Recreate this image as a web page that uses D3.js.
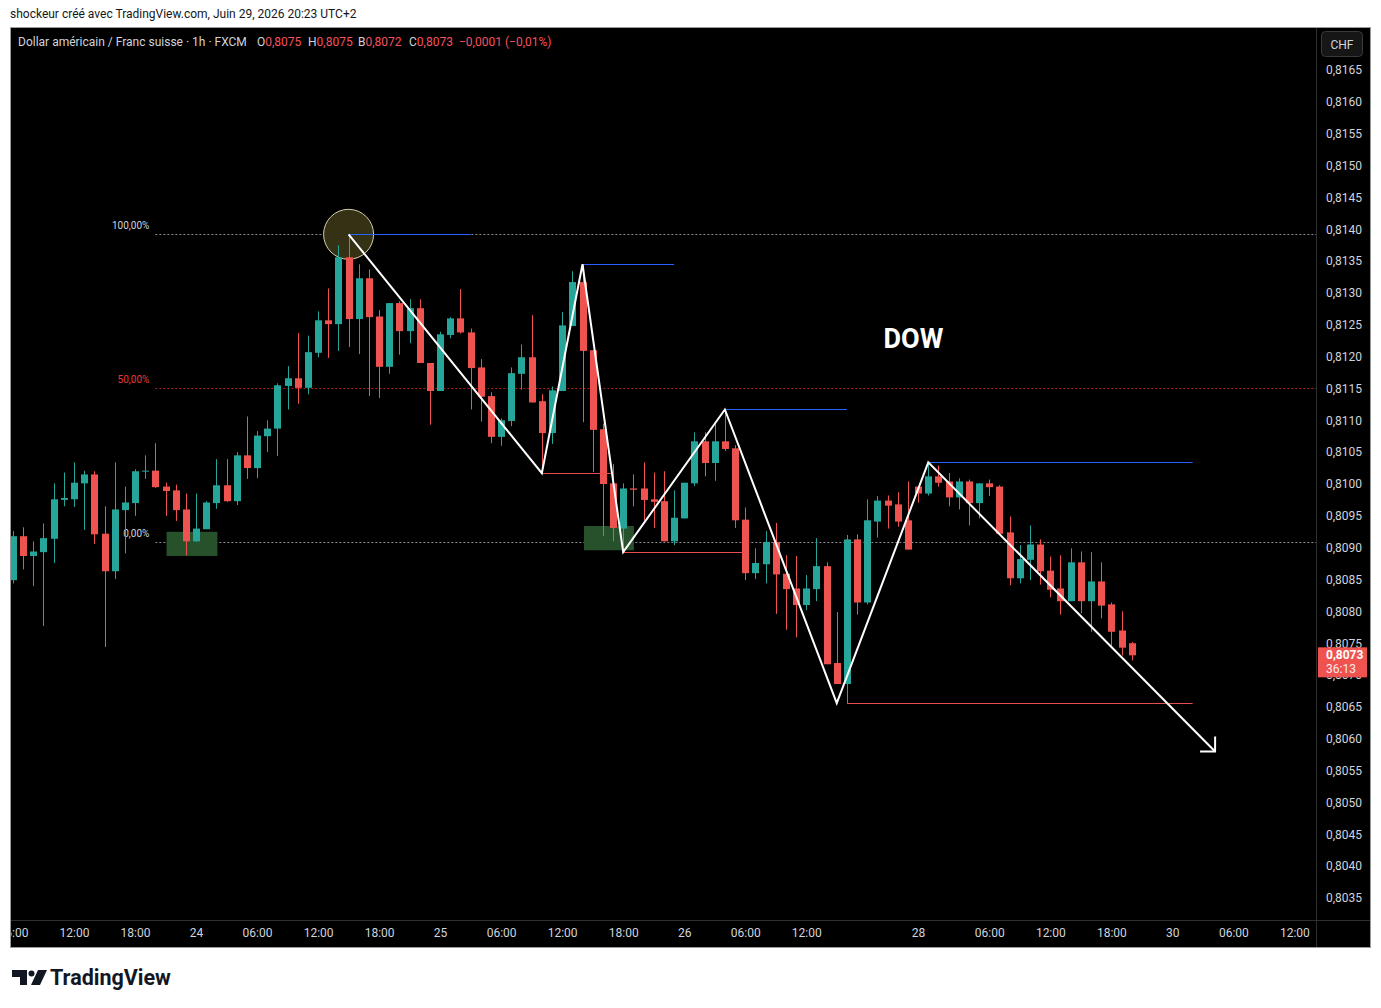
<!DOCTYPE html>
<html>
<head>
<meta charset="utf-8">
<script src="https://cdn.jsdelivr.net/npm/d3@7"></script>
<style>
  body { margin: 0; background: #ffffff; }
  svg { display: block; font-family: Roboto, "Liberation Sans", sans-serif; }
</style>
</head>
<body>
<svg></svg>
<script>
// USD/CHF 1h, FXCM - bar 0 = 23 juin 12:00 (weekend bars skipped)
const firstBar = -6;

const open = [
  0.80849, 0.80918, 0.80887, 0.80893, 0.80914, 0.80975, 0.80976, 0.81001, 0.81015, 0.80922,
  0.80863, 0.80959, 0.80970, 0.81020, 0.81021, 0.80996, 0.80990, 0.80960, 0.80910, 0.80929,
  0.80970, 0.80998, 0.80973, 0.81045, 0.81025, 0.81075, 0.81087, 0.81154, 0.81166, 0.81151,
  0.81206, 0.81257, 0.81251, 0.81356, 0.81259, 0.81323, 0.81263, 0.81184, 0.81284, 0.81240,
  0.81276, 0.81190, 0.81146, 0.81234, 0.81260, 0.81238, 0.81183, 0.81138, 0.81074, 0.81099,
  0.81173, 0.81199, 0.81130, 0.81080, 0.81146, 0.81248, 0.81317, 0.81210, 0.81086, 0.81001,
  0.80930, 0.80993, 0.80993, 0.80976, 0.80973, 0.80910, 0.80946, 0.81001, 0.81067, 0.81033,
  0.81067, 0.81056, 0.80944, 0.80860, 0.80874, 0.80909, 0.80859, 0.80836, 0.80810, 0.80835,
  0.80871, 0.80719, 0.80686, 0.80913, 0.80814, 0.80941, 0.80974, 0.80968, 0.80943, 0.80996,
  0.80985, 0.81012, 0.81004, 0.80979, 0.81004, 0.80970, 0.81001, 0.80996, 0.80924, 0.80852,
  0.80881, 0.80905, 0.80864, 0.80836, 0.80816, 0.80877, 0.80816, 0.80847, 0.80811, 0.80770,
  0.80750
];
const high = [
  0.80926, 0.80932, 0.80910, 0.80938, 0.81001, 0.81018, 0.81034, 0.81021, 0.81020, 0.80965,
  0.81034, 0.80996, 0.81023, 0.81045, 0.81064, 0.81002, 0.80999, 0.80985, 0.80985, 0.80973,
  0.81039, 0.81039, 0.81050, 0.81106, 0.81083, 0.81100, 0.81158, 0.81185, 0.81237, 0.81233,
  0.81271, 0.81307, 0.81375, 0.81392, 0.81345, 0.81337, 0.81273, 0.81284, 0.81287, 0.81290,
  0.81290, 0.81190, 0.81239, 0.81262, 0.81306, 0.81244, 0.81196, 0.81144, 0.81103, 0.81183,
  0.81219, 0.81265, 0.81141, 0.81153, 0.81270, 0.81334, 0.81345, 0.81210, 0.81095, 0.81031,
  0.81001, 0.81015, 0.81034, 0.81018, 0.81020, 0.80990, 0.81002, 0.81081, 0.81081, 0.81094,
  0.81117, 0.81061, 0.80963, 0.80899, 0.80926, 0.80939, 0.80888, 0.80887, 0.80857, 0.80915,
  0.80877, 0.80799, 0.80920, 0.80921, 0.80976, 0.80981, 0.80982, 0.80987, 0.81004, 0.80996,
  0.81033, 0.81029, 0.81017, 0.81009, 0.81007, 0.81001, 0.81007, 0.80998, 0.80949, 0.80904,
  0.80935, 0.80913, 0.80886, 0.80888, 0.80899, 0.80894, 0.80893, 0.80877, 0.80814, 0.80800,
  0.80752
];
const low = [
  0.80844, 0.80866, 0.80840, 0.80777, 0.80876, 0.80965, 0.80964, 0.80928, 0.80906, 0.80744,
  0.80851, 0.80891, 0.80950, 0.81008, 0.80994, 0.80950, 0.80942, 0.80888, 0.80909, 0.80929,
  0.80961, 0.80972, 0.80967, 0.81008, 0.81009, 0.81050, 0.81044, 0.81117, 0.81126, 0.81141,
  0.81199, 0.81198, 0.81209, 0.81215, 0.81204, 0.81138, 0.81135, 0.81173, 0.81203, 0.81221,
  0.81190, 0.81093, 0.81146, 0.81229, 0.81236, 0.81117, 0.81098, 0.81064, 0.81060, 0.81091,
  0.81148, 0.81128, 0.81017, 0.81063, 0.81146, 0.81248, 0.81097, 0.81019, 0.80918, 0.80910,
  0.80892, 0.80965, 0.80942, 0.80931, 0.80910, 0.80904, 0.80946, 0.80997, 0.81012, 0.81005,
  0.81052, 0.80931, 0.80849, 0.80851, 0.80844, 0.80796, 0.80771, 0.80759, 0.80802, 0.80816,
  0.80717, 0.80686, 0.80656, 0.80795, 0.80811, 0.80916, 0.80930, 0.80933, 0.80897, 0.80971,
  0.80982, 0.80996, 0.80965, 0.80960, 0.80935, 0.80946, 0.80981, 0.80922, 0.80841, 0.80844,
  0.80849, 0.80842, 0.80822, 0.80795, 0.80816, 0.80797, 0.80768, 0.80789, 0.80746, 0.80731,
  0.80723
];
const close = [
  0.80918, 0.80887, 0.80894, 0.80915, 0.80976, 0.80978, 0.81002, 0.81015, 0.80921, 0.80863,
  0.80960, 0.80971, 0.81020, 0.81021, 0.80995, 0.80989, 0.80959, 0.80910, 0.80930, 0.80971,
  0.80998, 0.80973, 0.81045, 0.81025, 0.81076, 0.81087, 0.81155, 0.81166, 0.81151, 0.81207,
  0.81257, 0.81251, 0.81356, 0.81259, 0.81323, 0.81262, 0.81184, 0.81284, 0.81240, 0.81276,
  0.81190, 0.81146, 0.81235, 0.81260, 0.81238, 0.81182, 0.81137, 0.81074, 0.81100, 0.81174,
  0.81199, 0.81128, 0.81080, 0.81147, 0.81249, 0.81317, 0.81209, 0.81085, 0.81000, 0.80931,
  0.80993, 0.80991, 0.80975, 0.80972, 0.80910, 0.80947, 0.81002, 0.81067, 0.81033, 0.81067,
  0.81055, 0.80943, 0.80860, 0.80876, 0.80909, 0.80858, 0.80835, 0.80810, 0.80836, 0.80871,
  0.80717, 0.80686, 0.80913, 0.80814, 0.80943, 0.80974, 0.80966, 0.80941, 0.80897, 0.80985,
  0.81012, 0.81002, 0.80979, 0.81004, 0.80970, 0.81001, 0.80995, 0.80922, 0.80852, 0.80882,
  0.80905, 0.80863, 0.80834, 0.80816, 0.80877, 0.80816, 0.80847, 0.80809, 0.80768, 0.80743,
  0.80731
];

const priceTicks = [
  0.8035, 0.8040, 0.8045, 0.8050, 0.8055, 0.8060, 0.8065, 0.8070, 0.8075, 0.8080,
  0.8085, 0.8090, 0.8095, 0.8100, 0.8105, 0.8110, 0.8115, 0.8120, 0.8125, 0.8130,
  0.8135, 0.8140, 0.8145, 0.8150, 0.8155, 0.8160, 0.8165
];
const timeTickBars = [-6, 0, 6, 12, 18, 24, 30, 36, 42, 48, 54, 60, 66, 72, 83, 90, 96, 102, 108, 114, 120];
const timeTickLabels = ["06:00", "12:00", "18:00", "24", "06:00", "12:00", "18:00", "25", "06:00", "12:00", "18:00",
  "26", "06:00", "12:00", "28", "06:00", "12:00", "18:00", "30", "06:00", "12:00"];

// drawings
const fibHigh = 0.81392, fibLow = 0.80909, fibStartBar = 8;
const fibLevels = [1, 0.5, 0];
const fibLabels = ["100,00%", "50,00%", "0,00%"];

const zigzagBars = [27, 46, 50, 54, 64, 75, 84, 112.2];
const zigzagPrices = [0.81392, 0.81017, 0.81345, 0.80893, 0.81117, 0.80656, 0.81034, 0.80580];

const levelStart = [27, 50, 64, 84, 46, 54, 76];
const levelEnd = [39, 59, 76, 110, 53, 66, 110];
const levelPrice = [0.81392, 0.81345, 0.81117, 0.81034, 0.81017, 0.80893, 0.80656];
const levelKind = ["high", "high", "high", "high", "low", "low", "low"];

const boxStart = [9.1, 50.15];
const boxEnd = [14.1, 55.05];
const boxTop = [0.80925, 0.80934];
const boxBottom = [0.80887, 0.80896];

const circleBar = 27, circlePrice = 0.81392;
const dowBar = 79.6, dowPrice = 0.81213;

const width = 1381, height = 1008;
const plot = { left: 11, right: 1316, top: 28, bottom: 920 };

const upColor = "#26a69a", downColor = "#ef5350";
const fmt = d => d.toFixed(4).replace(".", ",");

const svg = d3.select("svg").attr("width", width).attr("height", height);

svg.append("rect").attr("width", width).attr("height", height).attr("fill", "#ffffff");

svg.append("text")
  .attr("x", 10).attr("y", 18)
  .text("shockeur créé avec TradingView.com, Juin 29, 2026 20:23 UTC+2")
  .style("font-size", "12px").attr("fill", "#131722");

// chart frame
svg.append("rect")
  .attr("x", 10.5).attr("y", 27.5).attr("width", 1360).attr("height", 920)
  .attr("fill", "#000000").attr("stroke", "#9a9a9a");
svg.append("line").attr("x1", 1316.5).attr("x2", 1316.5).attr("y1", 28).attr("y2", 947)
  .attr("stroke", "#2e2e2e");
svg.append("line").attr("x1", 11).attr("x2", 1370).attr("y1", 920.5).attr("y2", 920.5)
  .attr("stroke", "#2e2e2e");

const x = d3.scaleLinear().domain([0, 120]).range([74, 1294.4]);
const y = d3.scaleLinear().domain([0.8035, 0.8165]).range([898, 70]);

const defs = svg.append("defs");
defs.append("clipPath").attr("id", "plotClip").append("rect")
  .attr("x", plot.left).attr("y", plot.top)
  .attr("width", plot.right - plot.left).attr("height", plot.bottom - plot.top);
defs.append("clipPath").attr("id", "timeClip").append("rect")
  .attr("x", plot.left).attr("y", plot.bottom)
  .attr("width", plot.right - plot.left).attr("height", 27);

const g = svg.append("g").attr("clip-path", "url(#plotClip)");

// fib retracement
fibLevels.forEach(function (lv, k) {
  const p = fibLow + (fibHigh - fibLow) * lv;
  const yy = Math.round(y(p)) + 0.5;
  const isMid = lv === 0.5;
  g.append("line")
    .attr("x1", x(fibStartBar)).attr("x2", plot.right)
    .attr("y1", yy).attr("y2", yy)
    .attr("stroke", isMid ? "#b71c1c" : "#8a8d96")
    .attr("stroke-dasharray", "2,2");
  g.append("text")
    .attr("x", x(fibStartBar) - 6).attr("y", yy - 6)
    .attr("text-anchor", "end")
    .text(fibLabels[k])
    .style("font-size", "10px")
    .attr("fill", isMid ? "#e53935" : "#d1d4dc");
});

// boxes
boxStart.forEach(function (b, k) {
  g.append("rect")
    .attr("x", x(b)).attr("y", y(boxTop[k]))
    .attr("width", x(boxEnd[k]) - x(b))
    .attr("height", y(boxBottom[k]) - y(boxTop[k]))
    .attr("fill", "#27512b");
});

// circle on the top
g.append("circle")
  .attr("cx", x(circleBar)).attr("cy", y(circlePrice)).attr("r", 25)
  .attr("fill", "#353114").attr("stroke", "#d6d0b0").attr("stroke-width", 1);

// candles
open.forEach(function (o, i) {
  const c = close[i];
  const cx = Math.round(x(firstBar + i));
  const col = c >= o ? upColor : downColor;
  g.append("line")
    .attr("x1", cx + 0.5).attr("x2", cx + 0.5)
    .attr("y1", y(high[i])).attr("y2", y(low[i]))
    .attr("stroke", col).attr("stroke-width", 1);
  const top = y(Math.max(o, c)), bot = y(Math.min(o, c));
  g.append("rect")
    .attr("x", cx - 3).attr("width", 7)
    .attr("y", top).attr("height", Math.max(1, bot - top))
    .attr("fill", col);
});

// horizontal levels
levelStart.forEach(function (s, k) {
  const yy = Math.round(y(levelPrice[k])) + 0.5;
  g.append("line")
    .attr("x1", x(s)).attr("x2", x(levelEnd[k]))
    .attr("y1", yy).attr("y2", yy)
    .attr("stroke", levelKind[k] === "high" ? "#2962ff" : "#e84d4d")
    .attr("stroke-width", 1);
});

// dow zigzag + arrow
const zz = zigzagBars.map((b, k) => [x(b), y(zigzagPrices[k])]);
g.append("path")
  .attr("d", d3.line()(zz))
  .attr("fill", "none").attr("stroke", "#ffffff").attr("stroke-width", 2)
  .attr("stroke-linejoin", "miter");

const tip = zz[zz.length - 1], prev = zz[zz.length - 2];
const ang = Math.atan2(prev[1] - tip[1], prev[0] - tip[0]);
const arm = 15;
const a1 = [tip[0] + arm * Math.cos(ang - Math.PI / 4), tip[1] + arm * Math.sin(ang - Math.PI / 4)];
const a2 = [tip[0] + arm * Math.cos(ang + Math.PI / 4), tip[1] + arm * Math.sin(ang + Math.PI / 4)];
g.append("path")
  .attr("d", d3.line()([a1, tip, a2]))
  .attr("fill", "none").attr("stroke", "#ffffff").attr("stroke-width", 2);

g.append("text")
  .attr("x", x(dowBar)).attr("y", y(dowPrice))
  .text("DOW")
  .style("font-size", "27px").style("font-weight", "bold")
  .attr("fill", "#ffffff");

// price axis
const rightAxis = svg.append("g")
  .attr("transform", `translate(${plot.right}, 0)`)
  .call(d3.axisRight(y).tickValues(priceTicks).tickFormat(fmt).tickSize(0).tickPadding(10));
rightAxis.select(".domain").remove();
rightAxis.selectAll("text").style("font-size", "12px").attr("fill", "#d1d4dc")
  .style("font-family", "Roboto, 'Liberation Sans', sans-serif");

// time axis
const bottomAxis = svg.append("g")
  .attr("clip-path", "url(#timeClip)")
  .append("g")
  .attr("transform", `translate(0, ${plot.bottom})`)
  .call(d3.axisBottom(x).tickValues(timeTickBars).tickFormat((d, i) => timeTickLabels[i]).tickSize(0).tickPadding(8));
bottomAxis.select(".domain").remove();
bottomAxis.selectAll("text").style("font-size", "12px").attr("fill", "#d1d4dc")
  .style("font-family", "Roboto, 'Liberation Sans', sans-serif");

// currency box
svg.append("rect")
  .attr("x", 1321.5).attr("y", 31.5).attr("width", 41).attr("height", 25).attr("rx", 4)
  .attr("fill", "#161616").attr("stroke", "#3a3a3a");
svg.append("text")
  .attr("x", 1342).attr("y", 48.5).attr("text-anchor", "middle")
  .text("CHF").style("font-size", "12px").attr("fill", "#d1d4dc");

// last price label (covers the 0,8070 tick like on the original)
const last = close.length - 1;
const yLast = y(close[last]);
svg.append("rect")
  .attr("x", 1318).attr("y", yLast - 8).attr("width", 49).attr("height", 30)
  .attr("fill", "#ef5350");
svg.append("text")
  .attr("x", 1326).attr("y", yLast + 4)
  .text(fmt(close[last]))
  .style("font-size", "12px").style("font-weight", "bold").attr("fill", "#ffffff");
svg.append("text")
  .attr("x", 1326).attr("y", yLast + 18)
  .text("36:13")
  .style("font-size", "12px").attr("fill", "#fde8e8");

// legend line
const chg = close[last] - close[last - 1];
const signed = v => (v < 0 ? "\u2212" : "+") + Math.abs(v).toFixed(4).replace(".", ",");
const pct = (Math.abs(chg / close[last - 1] * 100)).toFixed(2).replace(".", ",");
const legend = svg.append("g").style("font-size", "12px");
legend.append("text").attr("x", 18).attr("y", 46)
  .text("Dollar américain / Franc suisse · 1h · FXCM").attr("fill", "#d1d4dc");
const ohlc = [["O", open[last], 257], ["H", high[last], 308], ["B", low[last], 358], ["C", close[last], 409]];
ohlc.forEach(function (item) {
  const t = legend.append("text").attr("x", item[2]).attr("y", 46);
  t.append("tspan").text(item[0]).attr("fill", "#d1d4dc");
  t.append("tspan").text(fmt(item[1])).attr("fill", "#f7525f");
});
legend.append("text").attr("x", 459).attr("y", 46)
  .text(signed(chg) + " (" + (chg < 0 ? "\u2212" : "+") + pct + "%)")
  .attr("fill", "#f7525f");

// tradingview logo
svg.append("path")
  .attr("d", "M12,970 H27 V985 H20 V977 H12 Z")
  .attr("fill", "#131722");
svg.append("circle").attr("cx", 31.5).attr("cy", 973.5).attr("r", 3).attr("fill", "#131722");
svg.append("path")
  .attr("d", "M38,970 H47 L40,985 H31 Z")
  .attr("fill", "#131722");
svg.append("text")
  .attr("x", 50).attr("y", 985)
  .text("TradingView")
  .style("font-size", "21.5px").style("font-weight", "bold").attr("fill", "#131722");
</script>
</body>
</html>
